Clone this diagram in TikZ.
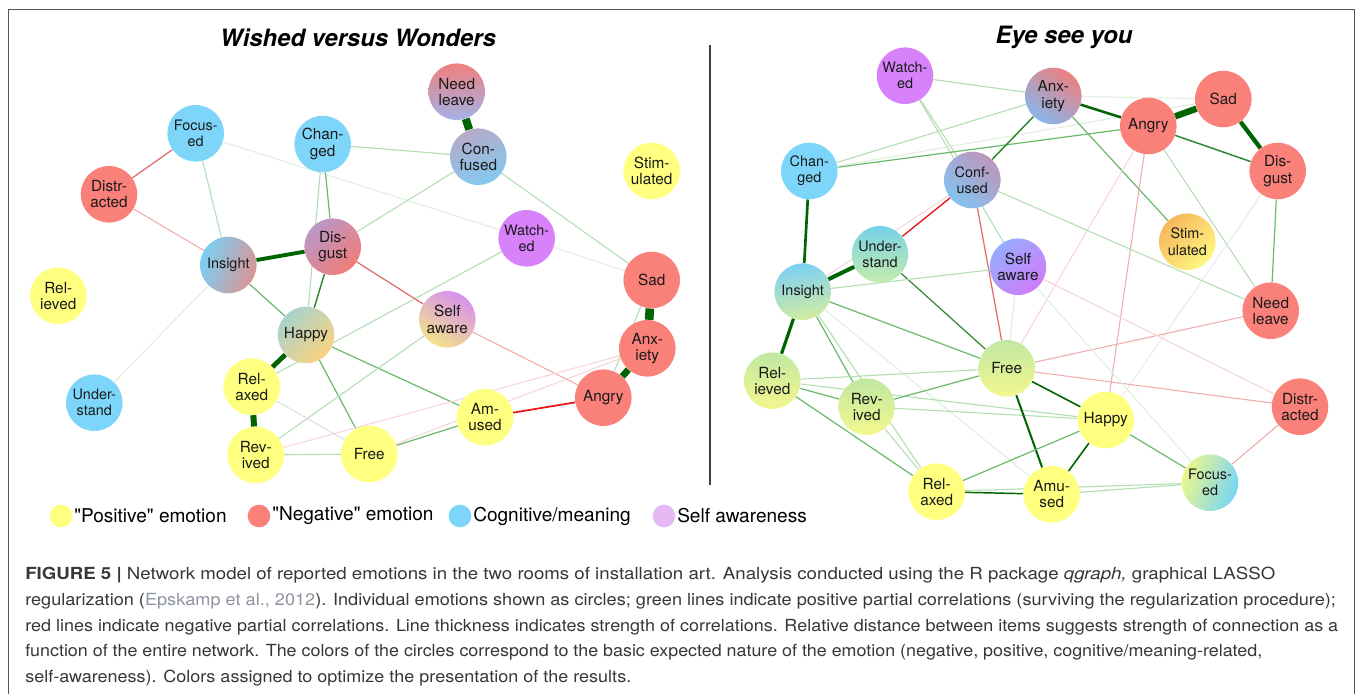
\documentclass[tikz,border=0pt]{standalone}
\usepackage{fontspec}
\setmainfont{TeX Gyre Heros}
\newfontfamily\capfont{TeX Gyre Heros}
\usetikzlibrary{backgrounds}
\definecolor{posY}{RGB}{255,255,128}
\definecolor{negR}{RGB}{250,128,122}
\definecolor{cogB}{RGB}{125,214,250}
\definecolor{selfP}{RGB}{215,130,250}
\definecolor{legP}{RGB}{230,185,245}
\definecolor{gA}{RGB}{222,240,222}
\definecolor{gB}{RGB}{178,222,178}
\definecolor{gC}{RGB}{105,185,105}
\definecolor{gD}{RGB}{45,135,45}
\definecolor{gE}{RGB}{0,100,0}
\definecolor{rA}{RGB}{247,214,216}
\definecolor{rB}{RGB}{238,172,172}
\definecolor{rC}{RGB}{222,105,105}
\definecolor{rD}{RGB}{232,20,20}
\definecolor{frameC}{RGB}{85,85,85}
\definecolor{capC}{RGB}{55,55,55}
\definecolor{linkC}{RGB}{140,148,160}
% gradient colours
\definecolor{kInsA}{RGB}{122,208,246}
\definecolor{kInsB}{RGB}{218,148,148}
\definecolor{kDisA}{RGB}{185,152,198}
\definecolor{kDisB}{RGB}{242,124,122}
\definecolor{kNeeA}{RGB}{240,128,125}
\definecolor{kNeeB}{RGB}{165,178,232}
\definecolor{kConA}{RGB}{182,170,200}
\definecolor{kConB}{RGB}{130,202,240}
\definecolor{kHapA}{RGB}{168,210,205}
\definecolor{kHapB}{RGB}{250,210,128}
\definecolor{kSelA}{RGB}{215,145,238}
\definecolor{kSelB}{RGB}{242,226,138}
\definecolor{mAnxA}{RGB}{236,128,128}
\definecolor{mAnxB}{RGB}{135,182,236}
\definecolor{mConA}{RGB}{188,150,188}
\definecolor{mConB}{RGB}{130,196,240}
\definecolor{mStiA}{RGB}{246,184,92}
\definecolor{mStiB}{RGB}{255,246,128}
\definecolor{mUndA}{RGB}{118,210,232}
\definecolor{mUndB}{RGB}{198,236,170}
\definecolor{mSelA}{RGB}{150,172,255}
\definecolor{mSelB}{RGB}{208,124,250}
\definecolor{mInsA}{RGB}{125,208,246}
\definecolor{mInsB}{RGB}{210,236,160}
\definecolor{mFreA}{RGB}{192,232,162}
\definecolor{mFreB}{RGB}{244,247,142}
\definecolor{mFocA}{RGB}{236,246,140}
\definecolor{mFocB}{RGB}{118,214,246}
\newcommand{\capln}[2]{\resizebox{#1}{\height}{#2}}
\begin{document}
\begin{tikzpicture}[x=0.75pt,y=-0.75pt,
  emo/.style={circle, minimum size=42.4pt, inner sep=0pt, align=center,
    font=\fontsize{11.5}{12.2}\selectfont, text=black!90},
  small/.style={font=\fontsize{10.8}{12.2}\selectfont},
  grad/.style n args={3}{shade, top color=#1, bottom color=#2, shading angle=#3},
  legdot/.style={circle, minimum size=17pt, inner sep=0pt},
  legtxt/.style={anchor=west, inner sep=0pt, font=\fontsize{14.3}{16}\selectfont},
  ttl/.style={font=\fontsize{17.9}{20}\selectfont\bfseries\itshape, inner sep=0pt},
  capl/.style={anchor=base west, inner sep=0pt, text=capC, font=\capfont\fontsize{12.5}{15}\selectfont},
  gfaint/.style={draw=gA, line width=0.8pt},
  glight/.style={draw=gB, line width=0.8pt},
  gmed/.style={draw=gC, line width=0.9pt},
  gdark/.style={draw=gD, line width=1.1pt},
  rfaint/.style={draw=rA, line width=0.8pt},
  rlight/.style={draw=rB, line width=0.8pt},
  rmed/.style={draw=rC, line width=0.9pt},
  rstrong/.style={draw=rD, line width=1.3pt},
  gthick/.style={draw=gE, line width=#1},
]
\useasboundingbox (0,0) rectangle (1357,693);
\begin{scope}[on background layer]
\fill[white] (0,0) rectangle (1357,693);
\end{scope}
\draw[frameC, line width=1.1pt] (8.5,700) -- (8.5,9.5) -- (1354.5,9.5) -- (1354.5,700);
\draw[black!75, line width=1.1pt] (710,45) -- (710,485);

% titles
\node[ttl] (t1) at (358,38) {Wished versus Wonders};
\node[ttl] (t2) at (1064,37) {Eye see you};

% ---------- left network ----------
\node[emo, small, fill=cogB] (LFoc) at (195.7,133.3) {Focus-\\ed};
\node[emo, fill=cogB] (LCha) at (322.7,144) {Chan-\\ged};
\node[emo, fill=negR] (LDist) at (109,194.3) {Distr-\\acted};
\node[emo, small, grad={kInsA}{kInsB}{70}] (LIns) at (228.3,265) {Insight};
\node[emo, grad={kDisA}{kDisB}{45}] (LDisg) at (332.7,246.7) {Dis-\\gust};
\node[emo, grad={kNeeA}{kNeeB}{0}] (LNee) at (456.7,91.7) {Need\\leave};
\node[emo, grad={kConA}{kConB}{20}] (LCon) at (478.3,156.7) {Con-\\fused};
\node[emo, fill=posY] (LSti) at (651.7,171) {Stim-\\ulated};
\node[emo, small, fill=selfP] (LWat) at (526.7,238.3) {Watch-\\ed};
\node[emo, fill=negR] (LSad) at (651.7,280) {Sad};
\node[emo, fill=posY] (LRel) at (58.3,295.7) {Rel-\\ieved};
\node[emo, grad={kHapA}{kHapB}{45}] (LHap) at (306,335) {Happy};
\node[emo, small, fill=cogB] (LUnd) at (94.3,402.7) {Under-\\stand};
\node[emo, fill=posY] (LRelx) at (251.7,386.7) {Rel-\\axed};
\node[emo, fill=posY] (LRev) at (255.7,455) {Rev-\\ived};
\node[emo, fill=posY] (LFree) at (369.3,454) {Free};
\node[emo, grad={kSelA}{kSelB}{-30}] (LSel) at (447.3,319.3) {Self\\aware};
\node[emo, fill=negR] (LAnx) at (647.3,348.3) {Anx-\\iety};
\node[emo, fill=negR] (LAng) at (603.3,397.7) {Angry};
\node[emo, fill=posY] (LAmu) at (485,417.3) {Am-\\used};

% ---------- right network ----------
\node[emo, small, fill=selfP] (RWat) at (905,75.7) {Watch-\\ed};
\node[emo, grad={mAnxA}{mAnxB}{-35}] (RAnx) at (1053.3,96) {Anx-\\iety};
\node[emo, fill=negR] (RAng) at (1148.3,126) {Angry};
\node[emo, fill=negR] (RSad) at (1223.3,99) {Sad};
\node[emo, fill=negR] (RDisg) at (1277.7,171) {Dis-\\gust};
\node[emo, small, fill=cogB] (RCha) at (809.3,171) {Chan-\\ged};
\node[emo, small, grad={mConA}{mConB}{-40}] (RCon) at (972.3,180) {Conf-\\used};
\node[emo, small, grad={mStiA}{mStiB}{45}] (RSti) at (1187.3,241.7) {Stim-\\ulated};
\node[emo, small, grad={mUndA}{mUndB}{0}] (RUnd) at (880,254.3) {Under-\\stand};
\node[emo, grad={mSelA}{mSelB}{45}] (RSel) at (1018,266.7) {Self\\aware};
\node[emo, small, grad={mInsA}{mInsB}{10}] (RIns) at (802.7,291.7) {Insight};
\node[emo, fill=negR] (RNee) at (1270.7,310.7) {Need\\leave};
\node[emo, grad={mFreA}{mFreB}{0}] (RFree) at (1006.7,368.3) {Free};
\node[emo, grad={mFreA}{mFreB}{0}] (RRel) at (772.3,380.7) {Rel-\\ieved};
\node[emo, grad={mFreA}{mFreB}{0}] (RRev) at (866.7,406.7) {Rev-\\ived};
\node[emo, fill=negR] (RDist) at (1300,406.7) {Distr-\\acted};
\node[emo, fill=posY] (RHap) at (1105.7,420) {Happy};
\node[emo, fill=posY] (RRelx) at (936.7,491.7) {Rel-\\axed};
\node[emo, fill=posY] (RAmu) at (1051.7,494.3) {Amu-\\sed};
\node[emo, small, grad={mFocA}{mFocB}{70}] (RFoc) at (1210,482.7) {Focus-\\ed};

% ---------- edges ----------
\begin{scope}[on background layer]
% left
\draw[rmed] (LFoc) -- (LDist);
\draw[glight] (LFoc) -- (LIns);
\draw[gfaint] (LFoc) -- (LWat);
\draw[rlight] (LDist) -- (LIns);
\draw[gthick=2.9pt] (LIns) -- (LDisg);
\draw[gmed] (LCha) -- (LDisg);
\draw[glight] (LCha) -- (LHap);
\draw[glight] (LCha) -- (LCon);
\draw[gthick=6pt] (LNee) -- (LCon);
\draw[glight] (LCon) -- (LDisg);
\draw[glight] (LCon) -- (LSad);
\draw[gfaint] (LWat) -- (LSad);
\draw[glight] (LWat) -- (LRelx);
\draw[rmed] (LDisg) -- (LSel);
\draw[gdark] (LDisg) -- (LHap);
\draw[gmed] (LIns) -- (LHap);
\draw[gfaint] (LIns) -- (LUnd);
\draw[gthick=3.6pt] (LHap) -- (LRelx);
\draw[gthick=4.5pt] (LRelx) -- (LRev);
\draw[gmed] (LHap) -- (LFree);
\draw[gmed] (LHap) -- (LAmu);
\draw[glight] (LSel) -- (LRev);
\draw[rlight] (LSel) -- (LAng);
\draw[glight] (LRev) -- (LFree);
\draw[rfaint] (LRev) -- (LAnx);
\draw[rfaint] (LFree) -- (LAnx);
\draw[gmed] (LFree) -- (LAmu);
\draw[rstrong] (LAmu) -- (LAng);
\draw[gthick=6.5pt] (LAnx) -- (LSad);
\draw[gthick=5pt] (LAnx) -- (LAng);
\draw[draw=black!12, line width=0.8pt] (LRelx) -- (LFree);
\draw[glight] (LSad) -- (LAng);
% right
\draw[glight] (RWat) -- (RAnx);
\draw[glight] (RWat) -- (RCon);
\draw[glight] (RWat) -- (RSel);
\draw[glight] (RCha) -- (RAnx);
\draw[gmed] (RCha) -- (RAng);
\draw[gfaint] (RCha) -- (RSad);
\draw[gdark] (RAnx) -- (RCon);
\draw[gthick=1.9pt] (RAnx) -- (RAng);
\draw[gthick=4.8pt] (RAng) -- (RSad);
\draw[gthick=3.2pt] (RSad) -- (RDisg);
\draw[gdark] (RAng) -- (RDisg);
\draw[gmed] (RAnx) -- (RSti);
\draw[gfaint] (RAnx) -- (RSad);
\draw[rlight] (RAng) -- (RHap);
\draw[rfaint] (RAng) -- (RFree);
\draw[glight] (RAng) -- (RNee);
\draw[gmed] (RDisg) -- (RNee);
\draw[draw=black!8, line width=0.8pt] (RDisg) -- (RHap);
\draw[rstrong, line width=1pt] (RCon) -- (RUnd);
\draw[rfaint] (RCon) -- (RIns);
\draw[rmed] (RCon) -- (RFree);
\draw[glight] (RCon) -- (RNee);
\draw[gthick=2pt] (RCha) -- (RIns);
\draw[gthick=3pt] (RUnd) -- (RIns);
\draw[gdark, line width=0.9pt] (RUnd) -- (RFree);
\draw[glight] (RIns) -- (RSel);
\draw[gmed] (RIns) -- (RFree);
\draw[gthick=2.4pt] (RIns) -- (RRel);
\draw[gmed] (RIns) -- (RRev);
\draw[glight] (RIns) -- (RRelx);
\draw[gfaint] (RIns) -- (RAmu);
\draw[glight] (RRel) -- (RFree);
\draw[gmed] (RRel) -- (RRev);
\draw[glight] (RRel) -- (RHap);
\draw[gmed] (RRel) -- (RRelx);
\draw[gmed] (RRev) -- (RFree);
\draw[glight] (RRev) -- (RHap);
\draw[glight] (RRev) -- (RRelx);
\draw[gthick=1.2pt] (RFree) -- (RHap);
\draw[gthick=1.5pt] (RFree) -- (RAmu);
\draw[gfaint] (RFree) -- (RSel);
\draw[rlight] (RFree) -- (RNee);
\draw[rlight] (RFree) -- (RDist);
\draw[rfaint] (RSel) -- (RDist);
\draw[gfaint] (RSel) -- (RFoc);
\draw[gthick=1.2pt] (RHap) -- (RAmu);
\draw[gmed] (RHap) -- (RFoc);
\draw[gmed] (RHap) -- (RRelx);
\draw[rlight] (RFoc) -- (RDist);
\draw[glight] (RAmu) -- (RFoc);
\draw[gthick=1.1pt] (RRelx) -- (RAmu);
\draw[glight] (RRelx) -- (RFoc);
\end{scope}

% ---------- legend ----------
\node[legdot, fill=posY] (d1) at (61,516) {};
\node[legtxt] (l1) at (74,516) {\textquotedbl Positive\textquotedbl{} emotion};
\node[legdot, fill=negR] (d2) at (259,516) {};
\node[legtxt] (l2) at (272,516) {\textquotedbl Negative\textquotedbl{} emotion};
\node[legdot, fill=cogB] (d3) at (460,516) {};
\node[legtxt] (l3) at (473,516) {Cognitive/meaning};
\node[legdot, fill=legP] (d4) at (664,516) {};
\node[legtxt] (l4) at (677,516) {Self awareness};

% ---------- caption ----------
\node[capl] (c1) at (25,579) {\capln{937.5pt}{\textbf{FIGURE 5 |} Network model of reported emotions in the two rooms of installation art. Analysis conducted using the R package \textit{qgraph,} graphical LASSO}};
\node[capl] (c2) at (25,605) {\capln{983pt}{regularization (\textcolor{linkC}{Epskamp et al., 2012}). Individual emotions shown as circles; green lines indicate positive partial correlations (surviving the regularization procedure);}};
\node[capl] (c3) at (25,631) {\capln{984.7pt}{red lines indicate negative partial correlations. Line thickness indicates strength of correlations. Relative distance between items suggests strength of connection as a}};
\node[capl] (c4) at (25,656) {\capln{927.7pt}{function of the entire network. The colors of the circles correspond to the basic expected nature of the emotion (negative, positive, cognitive/meaning-related,}};
\node[capl] (c5) at (25,682) {\capln{454.5pt}{self-awareness). Colors assigned to optimize the presentation of the results.}};
\end{tikzpicture}
\end{document}
